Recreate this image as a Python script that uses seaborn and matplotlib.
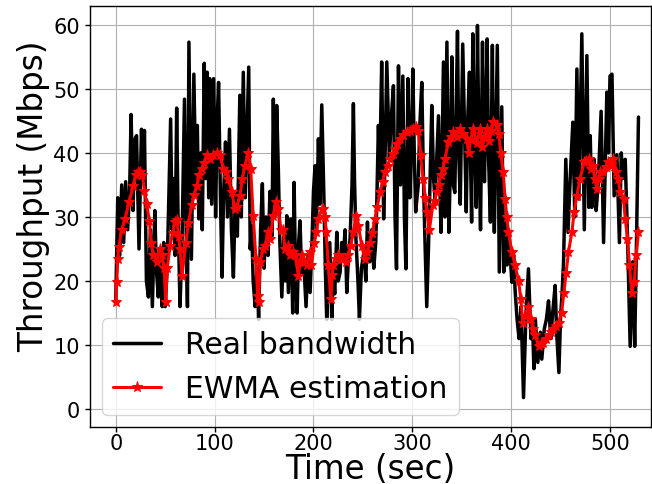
import numpy as np
import pandas as pd
import matplotlib
matplotlib.use("Agg")
import matplotlib.pyplot as plt
import seaborn as sns

# real bandwidth trace (peaks and troughs)
bw_time = [0, 2, 4, 6, 8, 10, 12, 14, 15.5, 17.5, 19, 21, 23.5, 26, 27.5, 29, 31, 33, 35, 37,
           39.5, 41, 43, 45, 47, 48.5, 50, 52, 55.5, 57, 58.5, 60, 61.6, 63, 65, 67, 69.5, 71, 72.5, 74,
           76.5, 79, 81, 82.5, 84, 86, 87.5, 89.5, 91, 92.5, 94, 95, 97, 99, 101, 102.5, 104, 106, 107.5, 109,
           111, 113, 115, 117, 119, 121, 123, 125.5, 127, 129, 131, 133, 134.5, 136, 137.5, 139, 141, 143, 144.5, 146.5,
           148.3, 150, 152, 154, 156, 158, 159.4, 161, 162.8, 164.5, 166, 168, 170, 171.5, 173, 174.6, 177, 179,
           180.4, 182, 183.5, 185, 186.4, 188, 190, 192.5, 194.5, 196.6, 198.5, 200, 201.6, 203, 205, 206.5, 208.4, 210.6,
           212, 213.4, 215, 216.5, 218.5, 220, 221.5, 223.6, 225, 227, 228.5, 230, 232, 233.7, 235.5, 237, 239, 240.4,
           241.5, 243, 245, 246.5, 248.5, 251, 253, 254.6, 256, 257, 259, 261, 263, 264, 265.7, 267, 269, 271,
           272.5, 274.2, 276.8, 278.5, 280.9, 282.5, 284, 286, 288, 290.4, 292, 293.5, 295.6, 297.5, 299, 300.5, 302, 303.4,
           306, 307.5, 309.6, 311, 312.5, 314.6, 316.5, 318, 319.7, 321.5, 323, 325, 326.5, 328, 329, 331.5, 333, 335,
           337, 338.5, 340, 341.5, 343, 345.7, 347, 348.5, 351, 353, 354.6, 356, 357.8, 359, 360, 361.2, 363, 364.7,
           365.9, 367.5, 369, 371, 372, 373, 375.7, 377, 379, 381, 382, 383, 386, 388, 390.5, 392.5, 394, 395.9,
           397.5, 400.7, 402.5, 404, 406, 408, 410, 412.5, 415, 417.5, 420, 421.5, 423, 424.5, 427, 429.5, 431, 433.5,
           435.6, 437.8, 440, 442, 444.5, 446, 448.3, 450, 451.5, 453, 455.3, 457.5, 460, 462.4, 464.4, 466.5, 468.5, 471.5,
           474, 476.6, 478.6, 480, 481.6, 484, 486, 488, 491, 493.5, 496.8, 498.5, 500, 502, 504.2, 507, 509.5, 511.4,
           513, 515.4, 517.7, 520.4, 523, 525, 527, 528.8]
bw_value = [17, 33, 24, 35, 26, 35.5, 28, 34, 46, 31, 42, 42.7, 25, 43.7, 36, 43.5, 20, 17.5, 28, 16,
            31, 22, 17.5, 24, 16, 26, 16, 22, 45.3, 28, 36, 24, 47, 30, 16, 26, 48.4, 30, 16, 57.3,
            23.4, 52.3, 34, 44.3, 29.7, 40, 28, 54, 36, 52.6, 33, 51.6, 32, 51.6, 30, 45, 51, 32, 20.6, 33,
            41.7, 30, 43.7, 28, 20.6, 34, 27, 49, 30, 52.6, 33, 45, 53.4, 25, 28.6, 20, 16, 22, 14, 28,
            35.2, 22, 30, 24, 34, 27, 48.4, 30, 47.4, 37.2, 26, 17.5, 27, 20, 30.2, 18.2, 29.7, 15,
            35.4, 20, 15, 26, 29.4, 21, 23.4, 16, 24, 18.2, 26, 34, 38, 28, 42.2, 32, 47.5, 32.8,
            22, 14, 20, 26, 14, 22, 18, 27.6, 20, 21.4, 26, 23.4, 28, 18.2, 24, 26.5, 35, 47.7,
            36, 26.5, 20, 14, 22, 24.5, 20, 29.2, 24, 23, 28, 22, 26, 31.8, 44.3, 36, 54.2, 29.7,
            40, 54.2, 39, 45, 50.5, 30, 21.9, 53.6, 35, 52, 30, 21.9, 51.6, 33, 40, 53.1, 40, 30.8,
            35, 44, 51, 38, 28, 16, 26, 36, 47.4, 36, 32.8, 40, 45.8, 34, 27.6, 54.2, 30, 57.3,
            27.6, 38, 55, 35, 33.8, 59, 40, 32, 57, 42, 30.8, 45, 52.6, 38, 29.2, 58.6, 42, 31.5,
            59.9, 40, 28, 57.3, 42, 35.5, 57.8, 40, 29.2, 56.8, 38, 27.6, 56.8, 21.4, 47.2, 21.4, 30, 22.5,
            28, 19.8, 24, 18.5, 14, 11, 16, 1.8, 15, 21.9, 11, 14, 6.3, 14, 7.3, 12, 7.8, 12.5,
            14, 16.9, 11, 15, 19.3, 12, 5.7, 14.5, 18, 23, 39, 27.6, 37, 44.8, 30, 53.1, 32.8, 58.6,
            28, 55.2, 31.5, 42.7, 31.5, 39, 31, 35, 46.5, 26, 49.5, 40, 52, 52.3, 33.3, 39.7, 26, 40,
            36, 39, 27, 9.8, 23, 9.8, 28, 45.6]

# EWMA estimate
ewma_time = [0, 1, 2, 3, 6, 9.5, 13.4, 17.8, 20, 22.8, 25, 27, 29, 31.3, 34, 35.7, 38, 41.5, 44.8, 46.5,
             49, 50.5, 52, 55, 57.5, 59.9, 62, 63.5, 65, 67, 70.9, 73.5, 76.8, 79.5, 82, 84.5, 87, 89.5, 92, 95.3,
             98.7, 102, 105.5, 108.8, 111.5, 113.9, 117.3, 120.6, 122.3, 125.7, 128, 130.8, 134, 136.5, 139, 141.8, 143.5, 144.5, 146, 149.3,
             151, 154.4, 156, 159.4, 161.8, 164.5, 167, 169.5, 171, 174.6, 176.3, 179.6, 181.4, 184.8, 186.4, 188, 190, 193, 196.5, 198,
             201, 203, 205, 208.4, 209.4, 211.8, 212.8, 215, 217.5, 219, 220, 222.5, 225, 227.5, 230, 232.5, 235, 237.5, 240.4, 243,
             245.5, 248.8, 252, 254.5, 257, 259.5, 262, 264.5, 267.4, 270, 272.4, 275, 277.5, 280, 282.6, 285, 287.6, 291, 294.4, 298,
             301, 303.5, 306, 308.4, 311, 313, 314.6, 317.3, 320.7, 322.5, 324.8, 326.5, 328.7, 331, 333, 336.5, 339, 341.6, 345, 348.4,
             351.5, 355, 357, 359, 361.8, 365, 368.5, 371, 373, 375.3, 378, 380, 382, 385.4, 387.5, 389.5, 392, 393.9, 395.6, 397.3,
             400.7, 404, 407.5, 409.8, 411.8, 414, 417.5, 420, 422, 424.5, 427.7, 430, 432.7, 435, 437.8, 440, 442.8, 445, 447.9, 451,
             453.4, 455.6, 458, 461.4, 463.7, 466.4, 469.8, 473.9, 476, 478.3, 480.5, 482.7, 484.5, 486.7, 488.5, 490, 493.4, 496, 498.4, 501,
             503, 506.3, 508, 510.4, 513.7, 515.4, 517.7, 519.7, 522, 524.5, 526.5, 528.8]
ewma_value = [16.7, 19.8, 23.4, 25.3, 28, 29.7, 32.3, 34.9, 36.5, 37, 37, 36.5, 34, 32, 29.4, 26, 24, 23, 25, 24,
              22, 16.7, 22, 25.5, 27.5, 29.2, 29.5, 27, 25, 20.8, 26, 29, 31.8, 33.5, 34.9, 36.5, 37.5, 38.5, 39.6, 39,
              39.6, 40, 39.6, 37.5, 37, 36, 33.9, 31.2, 31.5, 33.3, 36, 38, 40, 37.5, 30.2, 23.4, 17.7, 16.7, 23, 25,
              25.5, 27.6, 26.6, 30.2, 32.3, 31.2, 28, 28, 25, 25.5, 24, 24.5, 24, 20.8, 23, 24, 23, 22.5, 24.5, 22.5,
              26, 27.6, 29.7, 31.2, 31.2, 30, 27.6, 22.5, 17.2, 21, 22.5, 23.5, 24, 23.5, 23.4, 23, 24, 25.5, 27.6, 30.2,
              28.6, 25.5, 23.4, 24.5, 26, 27.5, 29.7, 31.5, 33.9, 35.5, 37, 38, 39, 39.8, 40.6, 41.4, 42.2, 42.8, 43.2, 43.4,
              43.7, 44, 43.5, 39.6, 36, 33, 30.7, 28, 31.8, 32.5, 33.9, 35, 36.5, 37.5, 39, 41.7, 42.5, 43.2, 42.5, 43.7,
              43, 42.2, 40, 42, 43.7, 41.5, 43.7, 41, 42.5, 43.7, 41.8, 43.5, 44.8, 44.3, 43, 40, 37, 32.8, 30, 27.6,
              24.5, 22.5, 20, 17.2, 13.5, 14.6, 16, 14, 12.5, 11.5, 9.8, 10.2, 10.3, 11, 11.5, 12, 12.5, 13, 13.5, 15,
              18.2, 21.3, 24.5, 27.6, 30.7, 33.3, 36, 38.6, 38.8, 39, 37.5, 38, 36, 34.4, 36, 37, 37, 37.8, 38.6, 38,
              39, 37, 36, 33.9, 32.8, 29.7, 26.6, 22.5, 18.2, 19.8, 24, 27.6]

bw = pd.DataFrame({"time": bw_time, "value": bw_value})
ewma = pd.DataFrame({"time": ewma_time, "value": ewma_value})

sns.set_style("ticks", {"axes.grid": True, "grid.color": "#b0b0b0",
                        "axes.edgecolor": "black", "text.color": "black",
                        "axes.labelcolor": "black", "xtick.color": "black",
                        "ytick.color": "black"})
plt.rcParams["font.family"] = ["DejaVu Sans"]

fig = plt.figure(figsize=(6.52, 4.85), dpi=100)
ax = fig.add_axes([0.1374, 0.1175, 0.8611, 0.8675])

sns.lineplot(data=bw, x="time", y="value", color="black", linewidth=2.5,
             estimator=None, label="Real bandwidth", ax=ax)
sns.lineplot(data=ewma, x="time", y="value", color="red", linewidth=2.2,
             marker="*", markersize=8, markeredgecolor="red", estimator=None,
             label="EWMA estimation", ax=ax)

ax.set_xlim(-26.5, 541.5)
ax.set_ylim(-2.8, 62.9)
ax.set_xticks([0, 100, 200, 300, 400, 500])
ax.set_yticks([0, 10, 20, 30, 40, 50, 60])
ax.tick_params(labelsize=15, direction="out", length=3.5, width=1)
ax.tick_params(axis="x", pad=0.5)
ax.set_xlabel("Time (sec)", fontsize=23.5)
ax.set_ylabel("Throughput (Mbps)", fontsize=23.5)
ax.xaxis.set_label_coords(0.5, -0.06)
ax.yaxis.set_label_coords(-0.07, 0.55)
ax.grid(True, color="#b0b0b0", linewidth=0.8)
for s in ax.spines.values():
    s.set_color("black")
    s.set_linewidth(1)

ax.legend(loc="lower left", fontsize=21.5, handlelength=1.6, framealpha=0.8,
          borderaxespad=0.4)

fig.savefig("out.png", dpi=100)
